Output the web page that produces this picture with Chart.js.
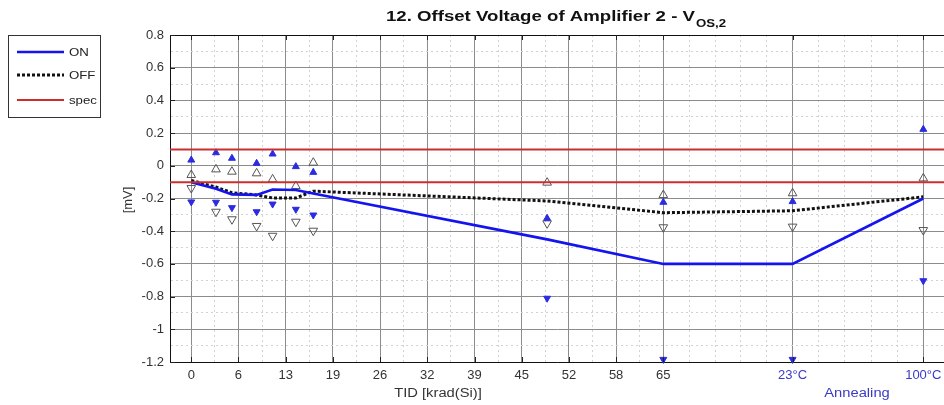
<!DOCTYPE html>
<html><head><meta charset="utf-8">
<script src="https://cdn.jsdelivr.net/npm/chart.js@4.4.1/dist/chart.umd.min.js"></script>
<style>html,body{margin:0;padding:0;background:#fff;}#wrap{width:944px;height:405px;position:relative;}</style>
</head><body><div id="wrap"><canvas id="c" width="944" height="405"></canvas></div>
<script>
// ---- data ----
const doses = [0, 3.4, 5.6, 9, 11.2, 14.4, 16.8, 49, 65];           // TID [krad(Si)]
const annealPositions = [82.8, 100.8];                             // axis positions of annealing steps
const annealLabels = ['23°C', '100°C'];
const xPositions = doses.concat(annealPositions);

const onMean  = [-0.10, -0.14, -0.175, -0.178, -0.145, -0.148, -0.17, -0.45, -0.60, -0.60, -0.20];
const offMean = [-0.09, -0.13, -0.165, -0.178, -0.197, -0.197, -0.155, -0.215, -0.287, -0.275, -0.19];
const onMax   = [0.035, 0.080, 0.046, 0.015, 0.072, -0.005, -0.040, -0.321, -0.223, -0.219, 0.223];
const onMin   = [-0.221, -0.223, -0.256, -0.281, -0.234, -0.266, -0.301, -0.81, -1.184, -1.184, -0.703];
const offMax  = [-0.056, -0.022, -0.036, -0.046, -0.083, -0.124, 0.019, -0.103, -0.179, -0.168, -0.077];
const offMin  = [-0.136, -0.281, -0.327, -0.368, -0.428, -0.342, -0.397, -0.352, -0.376, -0.372, -0.393];
const specLimits = [0.1, -0.1];

const tidTickValues = [0, 6.5, 13, 19.5, 26, 32.5, 39, 45.5, 52, 58.5, 65];
const tidTickLabels = ['0', '6', '13', '19', '26', '32', '39', '45', '52', '58', '65'];
const yTickValues = [-1.2, -1, -0.8, -0.6, -0.4, -0.2, 0, 0.2, 0.4, 0.6, 0.8];
const yTickLabels = ['-1.2', '-1', '-0.8', '-0.6', '-0.4', '-0.2', '0', '0.2', '0.4', '0.6', '0.8'];

const X_MIN = -2.93, X_MAX = 103.65, Y_MIN = -1.2, Y_MAX = 0.8;

// ---- tick construction ----
const xMajor = tidTickValues.concat(annealPositions);
const xMajorLabels = tidTickLabels.concat(annealLabels);
const xMinor = [];
for (let i = 0; i < tidTickValues.length - 1; i++) xMinor.push((tidTickValues[i] + tidTickValues[i + 1]) / 2);
const annealStart = [65].concat(annealPositions);
for (let i = 0; i < annealStart.length; i++) {
  const a = annealStart[i], b = (i + 1 < annealStart.length) ? annealStart[i + 1] : a + (annealPositions[1] - annealPositions[0]);
  for (let k = 1; k < 5; k++) { const v = a + (b - a) * k / 5; if (v < X_MAX) xMinor.push(v); }
}
const yMinor = [];
for (let i = 0; i < yTickValues.length - 1; i++) yMinor.push((yTickValues[i] + yTickValues[i + 1]) / 2);

const near = (a, b) => Math.abs(a - b) < 1e-6;
const isMajorX = v => xMajor.some(m => near(m, v));
const isMajorY = v => yTickValues.some(m => near(m, v));
const isAnneal = v => annealPositions.some(m => near(m, v));

const FONT = "'Liberation Sans', Arial, sans-serif";
const BLUE = '#1414ee';
const MARK_BLUE = '#2b2be0';
const HOLLOW = '#555555';
const RED = '#cc2e2e';
const TXT_BLUE = '#3a3ac4';

function pts(arr) { return xPositions.map((x, i) => ({ x: x, y: arr[i] })); }

const datasets = [
  { label: 'specHi', data: [{ x: X_MIN, y: specLimits[0] }, { x: X_MAX, y: specLimits[0] }], borderColor: RED, borderWidth: 2, pointRadius: 0, order: 0 },
  { label: 'specLo', data: [{ x: X_MIN, y: specLimits[1] }, { x: X_MAX, y: specLimits[1] }], borderColor: RED, borderWidth: 2, pointRadius: 0, order: 0 },
  { label: 'ON', data: pts(onMean), borderColor: BLUE, borderWidth: 2.6, pointRadius: 0, order: 1 },
  { label: 'OFF', data: pts(offMean), borderColor: '#111', borderWidth: 3, borderDash: [3, 2], pointRadius: 0, order: 2 },
  { label: 'ONmax', data: pts(onMax), showLine: false, pointStyle: 'triangle', pointRadius: 4, backgroundColor: MARK_BLUE, borderColor: MARK_BLUE, borderWidth: 1, order: 3, clip: false },
  { label: 'ONmin', data: pts(onMin), showLine: false, pointStyle: 'triangle', rotation: 180, pointRadius: 4, backgroundColor: MARK_BLUE, borderColor: MARK_BLUE, borderWidth: 1, order: 3, clip: false },
  { label: 'OFFmax', data: pts(offMax), showLine: false, pointStyle: 'triangle', pointRadius: 5, backgroundColor: 'rgba(255,255,255,0)', borderColor: HOLLOW, borderWidth: 1, order: 4, clip: false },
  { label: 'OFFmin', data: pts(offMin), showLine: false, pointStyle: 'triangle', rotation: 180, pointRadius: 5, backgroundColor: 'rgba(255,255,255,0)', borderColor: HOLLOW, borderWidth: 1, order: 4, clip: false }
];

function drawStretched(ctx, text, x, y, font, color, sx, align) {
  ctx.save();
  ctx.font = font; ctx.fillStyle = color; ctx.textBaseline = 'alphabetic';
  const w = ctx.measureText(text).width * sx;
  let left = x;
  if (align === 'center') left = x - w / 2;
  ctx.translate(left, y); ctx.scale(sx, 1);
  ctx.textAlign = 'left';
  ctx.fillText(text, 0, 0);
  ctx.restore();
  return w;
}

const decor = {
  id: 'decor',
  afterDraw(chart) {
    const ctx = chart.ctx, xs = chart.scales.x, ys = chart.scales.y, a = chart.chartArea;
    // inward tick marks
    ctx.save(); ctx.strokeStyle = '#222'; ctx.lineWidth = 1;
    xMajor.forEach(v => { const px = Math.round(xs.getPixelForValue(v)) + 0.5;
      ctx.beginPath(); ctx.moveTo(px, a.bottom); ctx.lineTo(px, a.bottom - 5); ctx.moveTo(px, a.top); ctx.lineTo(px, a.top + 5); ctx.stroke(); });
    yTickValues.forEach(v => { const py = Math.round(ys.getPixelForValue(v)) + 0.5;
      ctx.beginPath(); ctx.moveTo(a.left, py); ctx.lineTo(a.left + 5, py); ctx.stroke(); });
    ctx.restore();

    // title
    const main = '12. Offset Voltage of Amplifier 2 - V';
    ctx.save(); ctx.font = 'bold 15.5px ' + FONT;
    const mw = ctx.measureText(main).width; ctx.restore();
    const sx = 309 / mw;
    ctx.save(); ctx.font = 'bold 11px ' + FONT; const sw = ctx.measureText('OS,2').width * sx; ctx.restore();
    const total = 309 + 1 + sw;
    const cx = 556;
    const tl = cx - total / 2;
    drawStretched(ctx, main, tl, 21, 'bold 15.5px ' + FONT, '#111', sx, 'left');
    drawStretched(ctx, 'OS,2', tl + 310, 27, 'bold 11px ' + FONT, '#111', sx, 'left');

    // axis titles
    drawStretched(ctx, 'TID [krad(Si)]', 438, 397, '12.5px ' + FONT, '#333', 1.18, 'center');
    drawStretched(ctx, 'Annealing', 857, 397, '12.5px ' + FONT, TXT_BLUE, 1.18, 'center');
    ctx.save(); ctx.translate(132, 200); ctx.rotate(-Math.PI / 2);
    ctx.font = '13px ' + FONT; ctx.fillStyle = '#333'; ctx.textAlign = 'center'; ctx.textBaseline = 'alphabetic';
    ctx.fillText('[mV]', 0, 0); ctx.restore();

    // legend
    ctx.save();
    ctx.fillStyle = '#fff'; ctx.fillRect(8.5, 35.5, 92, 82);
    ctx.strokeStyle = '#333'; ctx.lineWidth = 1; ctx.strokeRect(8.5, 35.5, 92, 82);
    const items = [
      { t: 'ON', c: BLUE, w: 2.6, d: [] , y: 52 },
      { t: 'OFF', c: '#111', w: 3, d: [3, 2], y: 75 },
      { t: 'spec', c: RED, w: 2, d: [], y: 100 }
    ];
    items.forEach(it => {
      ctx.save(); ctx.strokeStyle = it.c; ctx.lineWidth = it.w; ctx.setLineDash(it.d);
      ctx.beginPath(); ctx.moveTo(17, it.y); ctx.lineTo(64, it.y); ctx.stroke(); ctx.restore();
      drawStretched(ctx, it.t, 69, it.y + 4, '11.5px ' + FONT, '#222', 1.15, 'left');
    });
    ctx.restore();
  }
};

new Chart(document.getElementById('c'), {
  type: 'line',
  data: { datasets: datasets },
  plugins: [decor],
  options: {
    responsive: false, animation: false, devicePixelRatio: 1,
    layout: { autoPadding: false, padding: { top: 35, left: 0, right: 0, bottom: 0 } },
    elements: { line: { tension: 0, fill: false } },
    plugins: { legend: { display: false }, title: { display: false }, tooltip: { enabled: false } },
    scales: {
      x: {
        type: 'linear', min: X_MIN, max: X_MAX,
        afterBuildTicks: s => { s.ticks = xMajor.concat(xMinor).sort((p, q) => p - q).map(v => ({ value: v })); },
        afterFit: s => { s.height = 43; s.paddingLeft = 0; s.paddingRight = 0; },
        ticks: {
          autoSkip: false, maxRotation: 0, minRotation: 0, padding: 6,
          font: { family: FONT, size: 13 },
          color: c => (c.tick && isAnneal(c.tick.value)) ? TXT_BLUE : '#333',
          callback: v => { const i = xMajor.findIndex(m => near(m, v)); return i >= 0 ? xMajorLabels[i] : ''; }
        },
        grid: {
          drawTicks: false, lineWidth: 1,
          color: c => (c.tick && isMajorX(c.tick.value)) ? '#8c8c8c' : '#d2d2d2'
        },
        border: { color: '#111', width: 1, dash: c => (c.tick && !isMajorX(c.tick.value)) ? [2, 3] : [] }
      },
      y: {
        type: 'linear', min: Y_MIN, max: Y_MAX,
        afterBuildTicks: s => { s.ticks = yTickValues.concat(yMinor).sort((p, q) => p - q).map(v => ({ value: v })); },
        afterFit: s => { s.width = 170; s.paddingTop = 0; s.paddingBottom = 0; },
        ticks: {
          autoSkip: false, padding: 6,
          font: { family: FONT, size: 13 }, color: '#333',
          callback: v => { const i = yTickValues.findIndex(m => near(m, v)); return i >= 0 ? yTickLabels[i] : ''; }
        },
        grid: {
          drawTicks: false, lineWidth: 1,
          color: c => { if (!c.tick) return '#8c8c8c'; if (near(c.tick.value, Y_MAX)) return '#111'; return isMajorY(c.tick.value) ? '#8c8c8c' : '#d2d2d2'; }
        },
        border: { color: '#111', width: 1, dash: c => (c.tick && !isMajorY(c.tick.value)) ? [2, 3] : [] }
      }
    }
  }
});
</script></body></html>
